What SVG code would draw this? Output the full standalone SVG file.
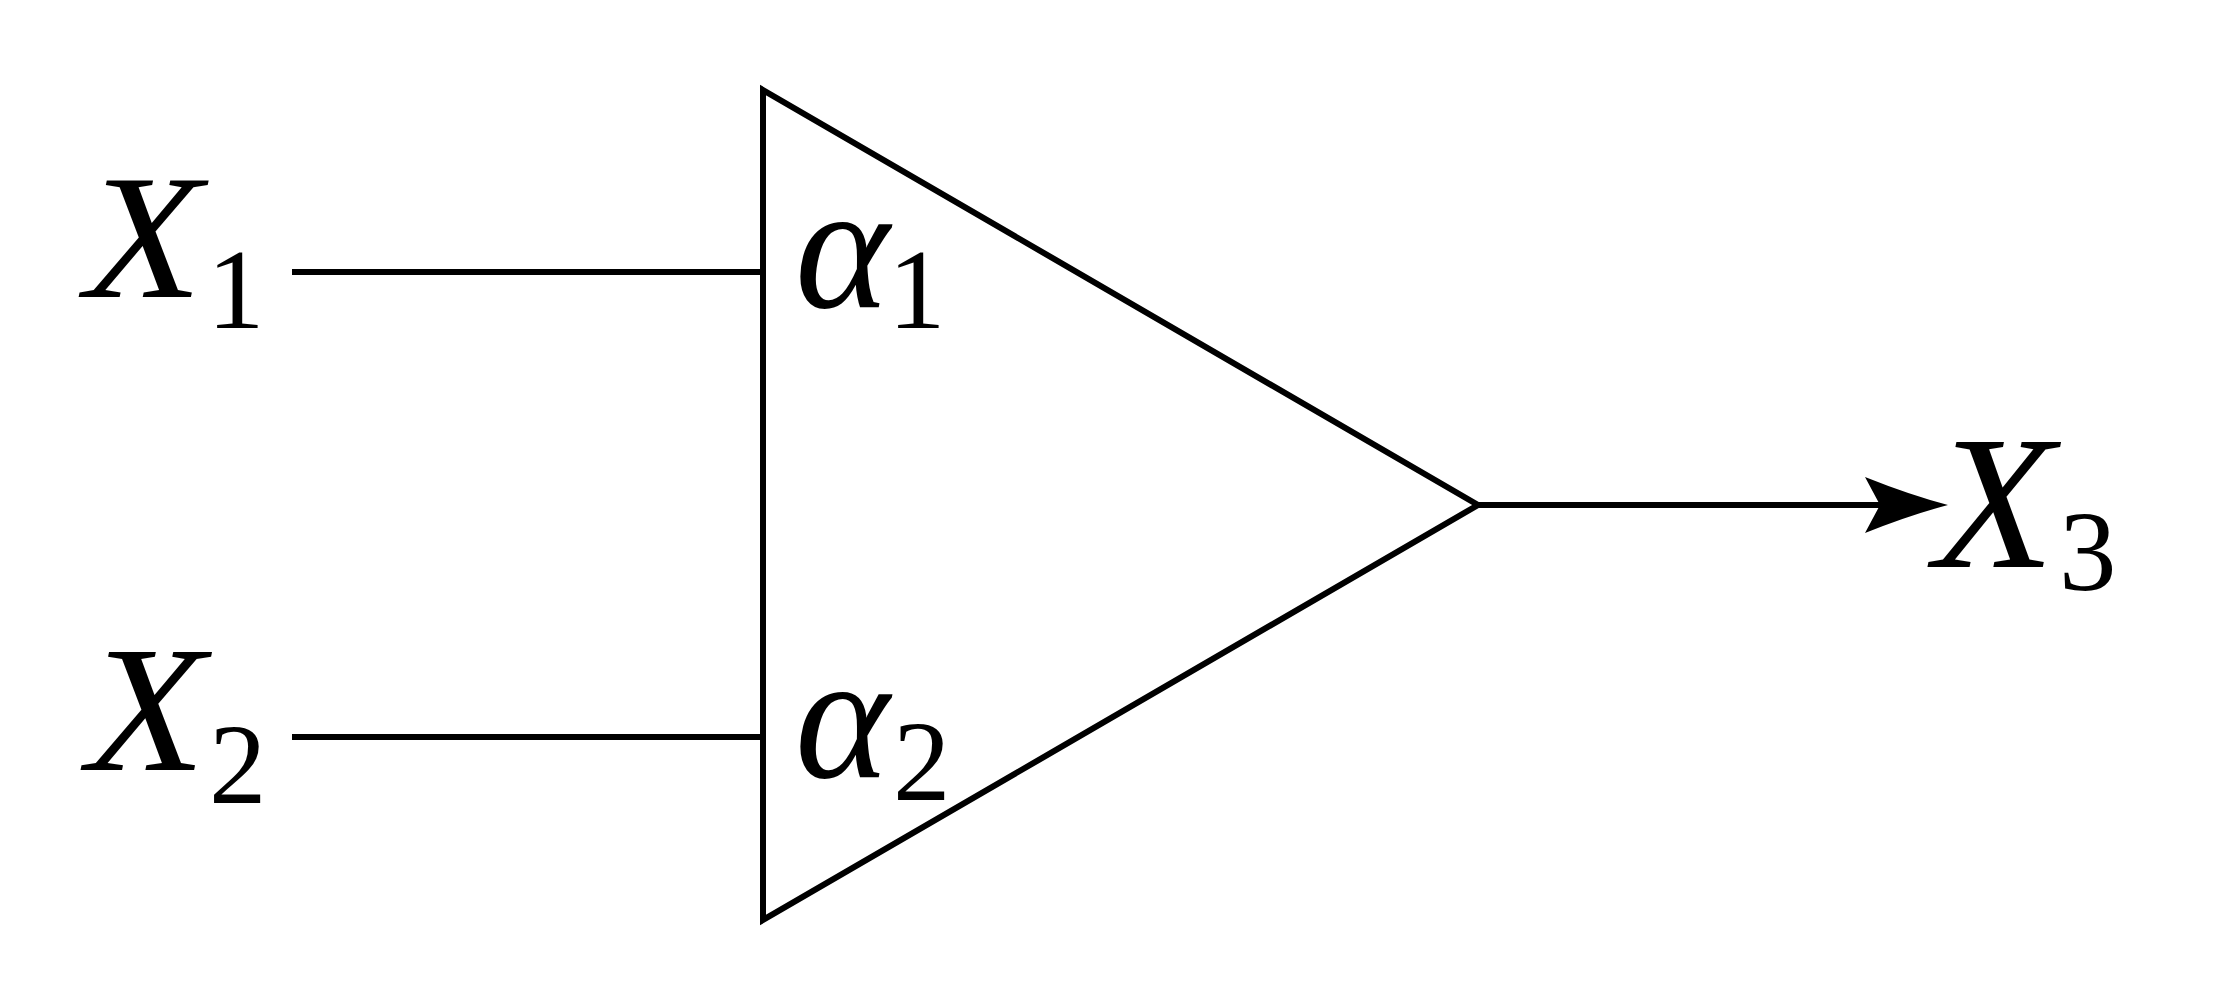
<svg xmlns="http://www.w3.org/2000/svg" width="2234" height="1000" viewBox="0 0 2234 1000">
<style>
.ln{fill:none;stroke:#000;stroke-width:6;stroke-linejoin:miter;stroke-miterlimit:10}
.v{font-family:"Liberation Serif","Times New Roman",serif;font-style:italic;fill:#000}
.s{font-family:"Liberation Serif","Times New Roman",serif;fill:#000}
</style>
<defs>
<marker id="ah" markerUnits="userSpaceOnUse" markerWidth="84" markerHeight="58" viewBox="0 0 84 58" refX="15" refY="29" orient="auto">
<path d="M0,1 Q45,19 83,29 Q45,39 0,57 L15,29 Z" fill="#000"/>
</marker>
</defs>
<rect width="2234" height="1000" fill="#fff"/>
<g id="connectors">
<path class="ln" d="M292,272 H763"/>
<path class="ln" d="M292,737 H763"/>
<path class="ln" d="M1478,505 H1880" marker-end="url(#ah)"/>
</g>
<g id="amplifier">
<path class="ln" d="M763,90 L1478,505 L763,920 Z"/>
<text class="v" x="795" y="307" font-size="180">α</text>
<text class="s" x="888" y="328" font-size="115">1</text>
<text class="v" x="795" y="777" font-size="180">α</text>
<text class="s" x="893" y="800" font-size="115">2</text>
</g>
<g id="x1">
<text class="v" transform="translate(85,297) scale(1.08,1)" font-size="178">X</text>
<text class="s" x="207" y="328" font-size="115">1</text>
</g>
<g id="x2">
<text class="v" transform="translate(87,770) scale(1.08,1)" font-size="180">X</text>
<text class="s" x="209" y="803" font-size="115">2</text>
</g>
<g id="x3">
<text class="v" transform="translate(1934,567) scale(1.04,1)" font-size="190">X</text>
<text class="s" x="2059" y="590" font-size="115">3</text>
</g>
</svg>
